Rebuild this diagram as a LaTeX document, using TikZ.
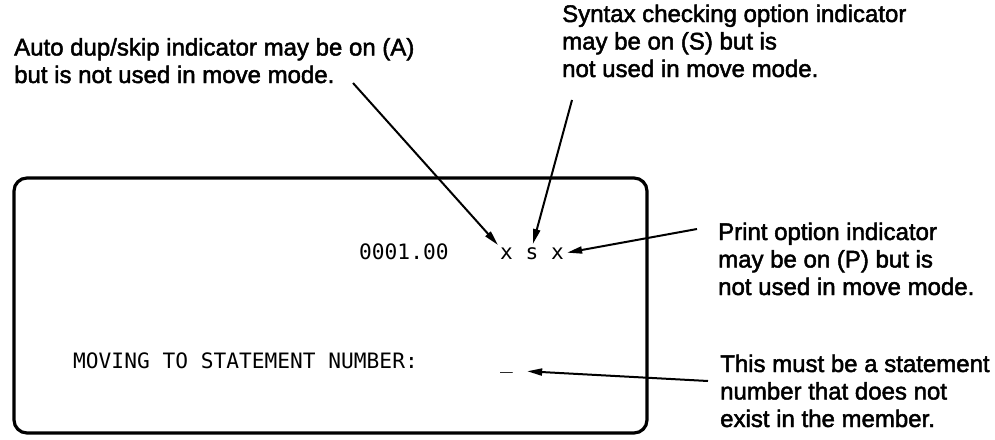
\documentclass[tikz,border=0pt]{standalone}
\usepackage{fontspec}
\setmainfont{Liberation Sans}
\setmonofont{DejaVu Sans Mono}
\newfontfamily\notefont{Liberation Sans}[FakeBold=2]
\usetikzlibrary{arrows.meta}

\tikzset{
    note/.style={anchor=base west, align=left, inner sep=0pt, font=\notefont\fontsize{24}{27.5}\selectfont},
    screen/.style={anchor=base west, inner sep=0pt, font=\fontsize{21.2}{24}\ttfamily},
    pointer/.style={black, line width=2pt, shorten >=3pt, -{Triangle[length=15pt,width=7pt]}}
}

\begin{document}
\begin{tikzpicture}[x=1pt, y=-1pt]
    \useasboundingbox (0,0) rectangle (995,439);

    % Screen
    \draw[black, line width=3.2pt, rounded corners=13pt] (14,178) rectangle (647,433);
    \node[screen] (number) at (359,259) {0001.00};
    \node[screen] (dupflag) at (500,259) {x};
    \node[screen] (syntaxflag) at (525.5,259) {s};
    \node[screen] (printflag) at (551,259) {x};
    \node[screen] (prompt) at (73,368) {MOVING TO STATEMENT NUMBER:};
    \node[screen] (cursor) at (500,368) {\_};

    % Auto dup/skip (base = last line)
    \node[note] (dupnote) at (14,83) {Auto dup/skip indicator may be on (A)\\but is not used in move mode.};
    \coordinate (duptail) at (353,83);
    \draw[pointer] (duptail) -- (dupflag.north west);

    % Syntax checking
    \node[note] (syntaxnote) at (562,77) {Syntax checking option indicator\\may be on (S) but is\\not used in move mode.};
    \coordinate (syntaxtail) at (572,100);
    \draw[pointer] (syntaxtail) -- (syntaxflag.north);

    % Print option
    \node[note] (printnote) at (718,295) {Print option indicator\\may be on (P) but is\\not used in move mode.};
    \coordinate (printtail) at (697,229);
    \draw[pointer] (printtail) -- (printflag.east);

    % Statement number
    \node[note] (cursornote) at (720,427) {This must be a statement\\number that does not\\exist in the member.};
    \coordinate (cursortail) at (708,381);
    \draw[pointer, shorten >=14pt] (cursortail) -- (cursor.east);
\end{tikzpicture}
\end{document}
